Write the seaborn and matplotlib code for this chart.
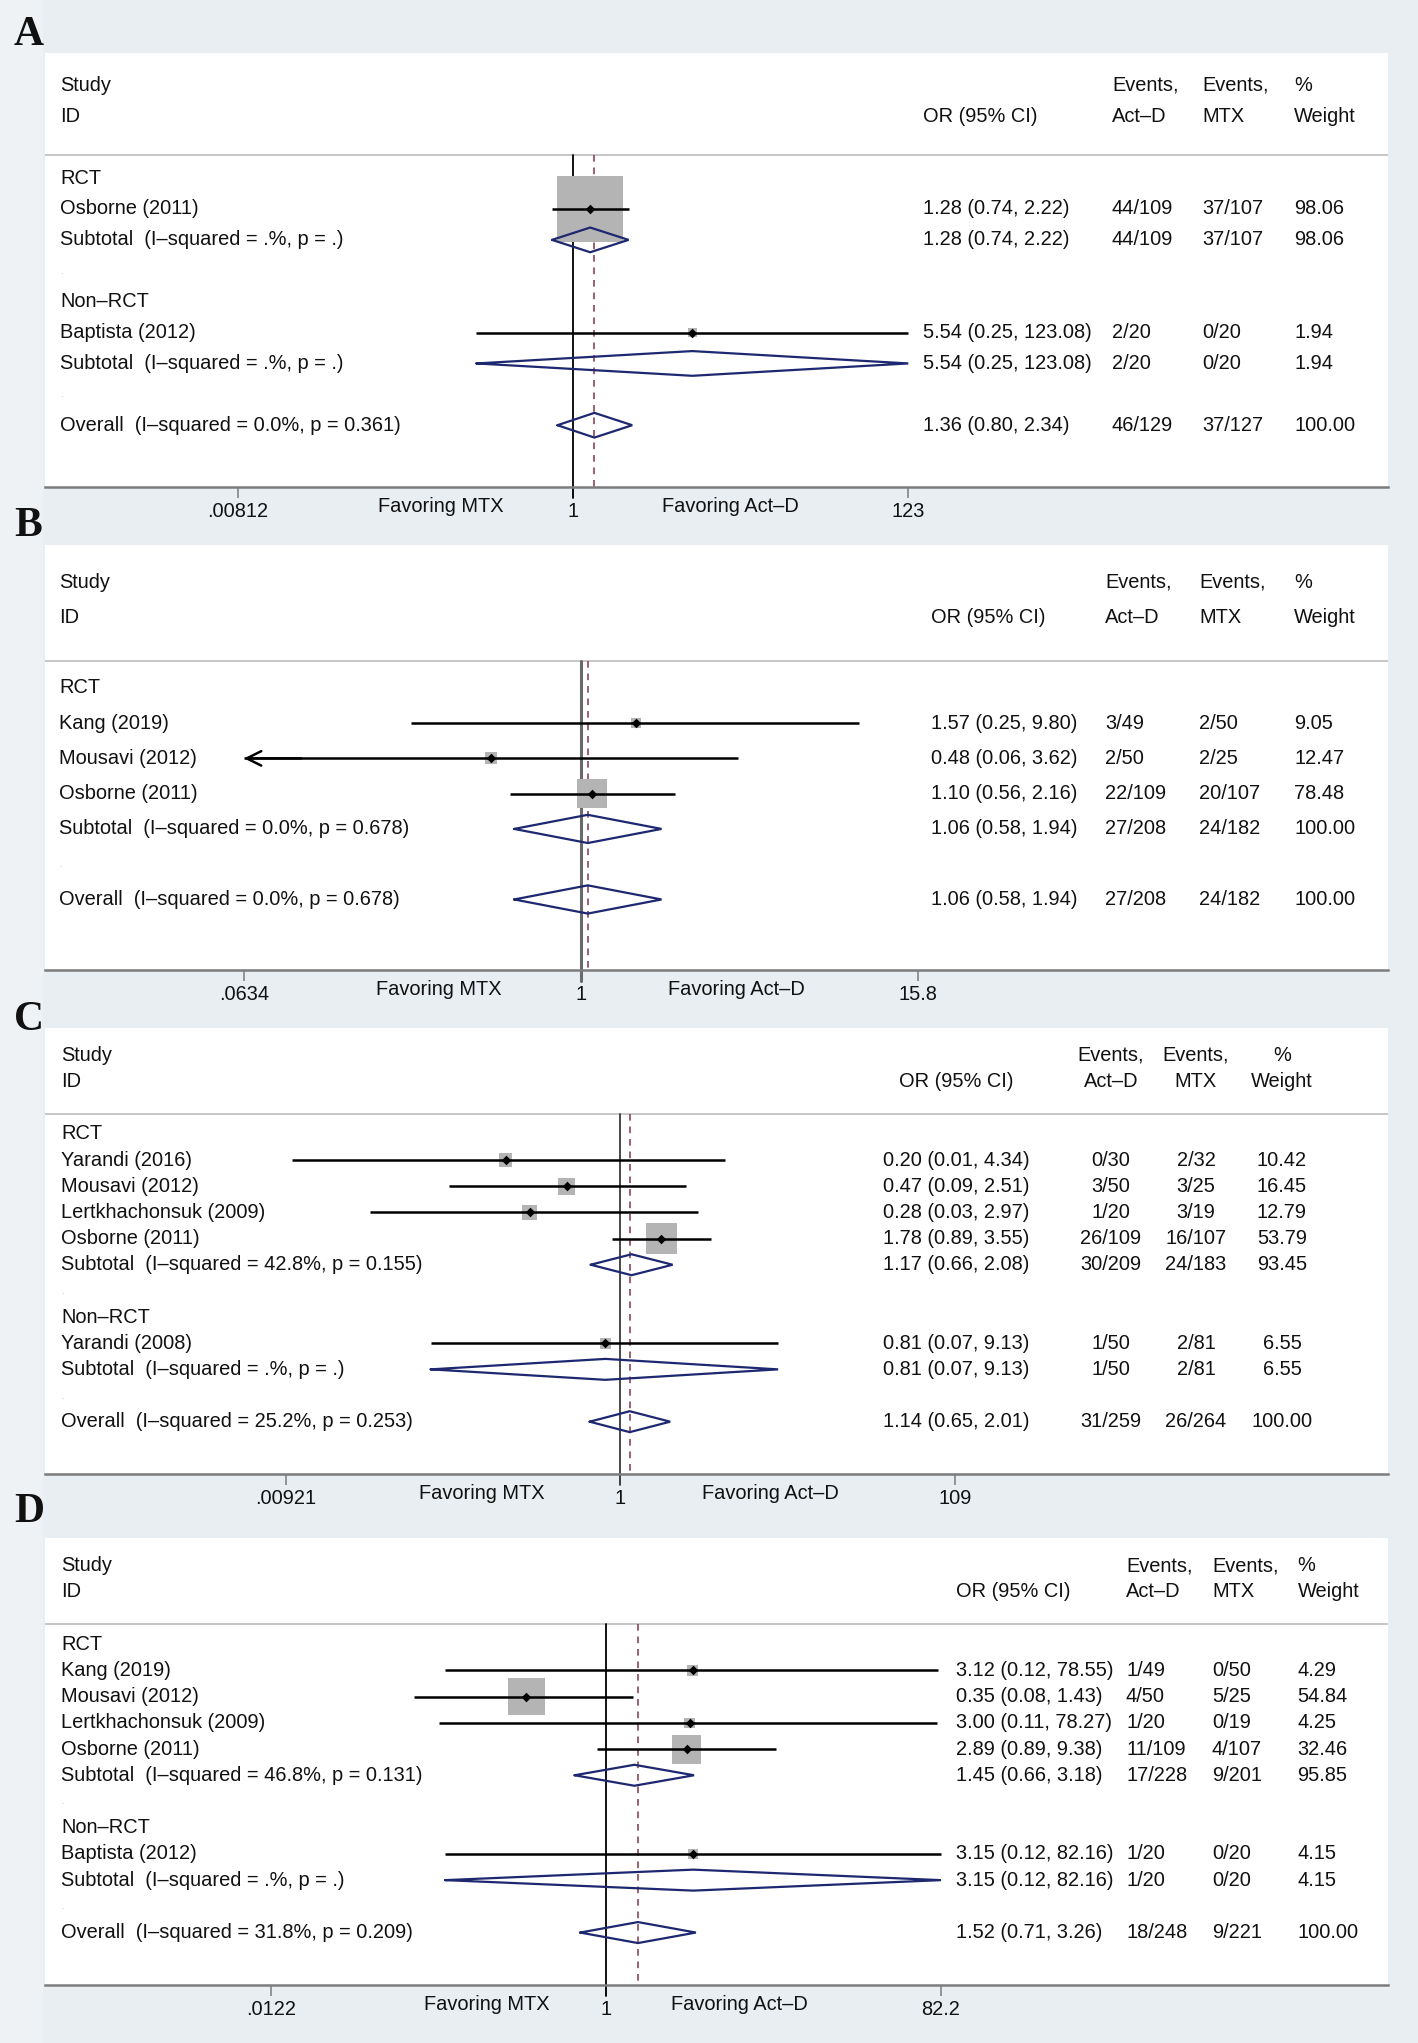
import numpy as np
import pandas as pd
import matplotlib
matplotlib.use("Agg")
import matplotlib.pyplot as plt
import matplotlib.transforms as mtrans
from matplotlib.ticker import NullLocator
import seaborn as sns

# ---------------- data ----------------
# panel A
a_label = ["RCT", "Osborne (2011)", "Subtotal  (I–squared = .%, p = .)", ".",
           "Non–RCT", "Baptista (2012)", "Subtotal  (I–squared = .%, p = .)", ".",
           "Overall  (I–squared = 0.0%, p = 0.361)"]
a_kind = ["head", "study", "sub", "blank", "head", "study", "sub", "blank", "sub"]
a_or = [None, 1.28, 1.28, None, None, 5.54, 5.54, None, 1.36]
a_lo = [None, 0.74, 0.74, None, None, 0.25, 0.25, None, 0.80]
a_hi = [None, 2.22, 2.22, None, None, 123.08, 123.08, None, 2.34]
a_ev_actd = ["", "44/109", "44/109", "", "", "2/20", "2/20", "", "46/129"]
a_ev_mtx = ["", "37/107", "37/107", "", "", "0/20", "0/20", "", "37/127"]
a_weight = [None, 98.06, 98.06, None, None, 1.94, 1.94, None, 100.00]
a_ticks = [0.00812, 1, 123]
a_ticklabels = [".00812", "1", "123"]

# panel B
b_label = ["RCT", "Kang (2019)", "Mousavi (2012)", "Osborne (2011)",
           "Subtotal  (I–squared = 0.0%, p = 0.678)", ".",
           "Overall  (I–squared = 0.0%, p = 0.678)"]
b_kind = ["head", "study", "study", "study", "sub", "blank", "sub"]
b_or = [None, 1.57, 0.48, 1.10, 1.06, None, 1.06]
b_lo = [None, 0.25, 0.06, 0.56, 0.58, None, 0.58]
b_hi = [None, 9.80, 3.62, 2.16, 1.94, None, 1.94]
b_ev_actd = ["", "3/49", "2/50", "22/109", "27/208", "", "27/208"]
b_ev_mtx = ["", "2/50", "2/25", "20/107", "24/182", "", "24/182"]
b_weight = [None, 9.05, 12.47, 78.48, 100.00, None, 100.00]
b_ticks = [0.0634, 1, 15.8]
b_ticklabels = [".0634", "1", "15.8"]

# panel C
c_label = ["RCT", "Yarandi (2016)", "Mousavi (2012)", "Lertkhachonsuk (2009)",
           "Osborne (2011)", "Subtotal  (I–squared = 42.8%, p = 0.155)", ".",
           "Non–RCT", "Yarandi (2008)", "Subtotal  (I–squared = .%, p = .)", ".",
           "Overall  (I–squared = 25.2%, p = 0.253)"]
c_kind = ["head", "study", "study", "study", "study", "sub", "blank",
          "head", "study", "sub", "blank", "sub"]
c_or = [None, 0.20, 0.47, 0.28, 1.78, 1.17, None, None, 0.81, 0.81, None, 1.14]
c_lo = [None, 0.01, 0.09, 0.03, 0.89, 0.66, None, None, 0.07, 0.07, None, 0.65]
c_hi = [None, 4.34, 2.51, 2.97, 3.55, 2.08, None, None, 9.13, 9.13, None, 2.01]
c_ev_actd = ["", "0/30", "3/50", "1/20", "26/109", "30/209", "", "", "1/50", "1/50", "", "31/259"]
c_ev_mtx = ["", "2/32", "3/25", "3/19", "16/107", "24/183", "", "", "2/81", "2/81", "", "26/264"]
c_weight = [None, 10.42, 16.45, 12.79, 53.79, 93.45, None, None, 6.55, 6.55, None, 100.00]
c_ticks = [0.00921, 1, 109]
c_ticklabels = [".00921", "1", "109"]

# panel D
d_label = ["RCT", "Kang (2019)", "Mousavi (2012)", "Lertkhachonsuk (2009)",
           "Osborne (2011)", "Subtotal  (I–squared = 46.8%, p = 0.131)", ".",
           "Non–RCT", "Baptista (2012)", "Subtotal  (I–squared = .%, p = .)", ".",
           "Overall  (I–squared = 31.8%, p = 0.209)"]
d_kind = ["head", "study", "study", "study", "study", "sub", "blank",
          "head", "study", "sub", "blank", "sub"]
d_or = [None, 3.12, 0.35, 3.00, 2.89, 1.45, None, None, 3.15, 3.15, None, 1.52]
d_lo = [None, 0.12, 0.08, 0.11, 0.89, 0.66, None, None, 0.12, 0.12, None, 0.71]
d_hi = [None, 78.55, 1.43, 78.27, 9.38, 3.18, None, None, 82.16, 82.16, None, 3.26]
d_ev_actd = ["", "1/49", "4/50", "1/20", "11/109", "17/228", "", "", "1/20", "1/20", "", "18/248"]
d_ev_mtx = ["", "0/50", "5/25", "0/19", "4/107", "9/201", "", "", "0/20", "0/20", "", "9/221"]
d_weight = [None, 4.29, 54.84, 4.25, 32.46, 95.85, None, None, 4.15, 4.15, None, 100.00]
d_ticks = [0.0122, 1, 82.2]
d_ticklabels = [".0122", "1", "82.2"]

head_top = ["Study", "", "Events,", "Events,", "%"]
head_bot = ["ID", "OR (95% CI)", "Act–D", "MTX", "Weight"]
fav_left, fav_right = "Favoring MTX", "Favoring Act–D"

# ---------------- layout (pixels of the 1418 x 2043 canvas) ----------------
W, H = 1418, 2043
BOX_L, BOX_R = 45, 1388
BG = "#E8EEF2"
NAVY = "#1E2870"
DASH = "#8E4454"
AXC = "#7C7C7C"
FS = 14.4

layout = {
    "A": dict(top=53, axis=487, tick_px=(237.6, 908.3), k=6.67,
              cols=(60, 923, 1112, 1202, 1294), ha="left", fav=(441, 730),
              letter=(29, 35), ref="black", ref_lw=1.3),
    "B": dict(top=545, axis=970, tick_px=(244, 917.5), k=3.35,
              cols=(59, 931, 1105, 1199, 1294), ha="left", fav=(439, 736),
              letter=(28, 526), ref="#6A6A6A", ref_lw=2.2),
    "C": dict(top=1028, axis=1474, tick_px=(286, 955), k=4.2,
              cols=(61, 956, 1111, 1196, 1282), ha="center", fav=(482, 770),
              letter=(29, 1020), ref="#3A3A3A", ref_lw=1.3),
    "D": dict(top=1538, axis=1985, tick_px=(271.5, 941), k=5.1,
              cols=(61, 955.5, 1126, 1212, 1297.5), ha="left", fav=(487, 739),
              letter=(29, 1512), ref="black", ref_lw=1.3),
}

panels = {
    "A": (a_label, a_kind, a_or, a_lo, a_hi, a_ev_actd, a_ev_mtx, a_weight, a_ticks, a_ticklabels),
    "B": (b_label, b_kind, b_or, b_lo, b_hi, b_ev_actd, b_ev_mtx, b_weight, b_ticks, b_ticklabels),
    "C": (c_label, c_kind, c_or, c_lo, c_hi, c_ev_actd, c_ev_mtx, c_weight, c_ticks, c_ticklabels),
    "D": (d_label, d_kind, d_or, d_lo, d_hi, d_ev_actd, d_ev_mtx, d_weight, d_ticks, d_ticklabels),
}

sns.set_style("white")
plt.rcParams["font.family"] = ["Liberation Sans", "DejaVu Sans"]
plt.rcParams["text.color"] = "#111111"

fig = plt.figure(figsize=(W / 100, H / 100), dpi=100, facecolor=BG)
fig.patches.append(plt.Rectangle((0, 0), 43 / W, 1, transform=fig.transFigure,
                                 facecolor="#EEF2F5", edgecolor="none", zorder=0))


def fx(px):
    return (px - BOX_L) / (BOX_R - BOX_L)


for key, (label, kind, orv, lo, hi, ev1, ev2, wt, ticks, ticklabels) in panels.items():
    lay = layout[key]
    n = len(label)
    hpx = lay["axis"] - lay["top"]
    ax = fig.add_axes([BOX_L / W, 1 - lay["axis"] / H, (BOX_R - BOX_L) / W, hpx / H])
    ax.set_facecolor("white")

    df = pd.DataFrame(dict(label=label, kind=kind, OR=orv, lo=lo, hi=hi,
                           ev1=ev1, ev2=ev2, wt=wt))
    df["row"] = np.arange(n)
    t_lo, t_hi = ticks[0], ticks[-1]

    # log scale mapped so that the outer ticks land where Stata put them
    ax.set_xscale("log")
    b = (np.log(t_hi) - np.log(t_lo)) / (lay["tick_px"][1] - lay["tick_px"][0])
    ax.set_xlim(np.exp(np.log(t_lo) + b * (BOX_L - lay["tick_px"][0])),
                np.exp(np.log(t_lo) + b * (BOX_R - lay["tick_px"][0])))
    ax.set_ylim(n + 1, -4.05)
    sep = -0.76

    ax.axhline(sep, color="#C6C6C6", lw=1.4, zorder=0.5)
    sep_frac = (n + 1 - sep) / (n + 1 + 4.05)
    ax.axvline(1, ymin=-11 / hpx, ymax=sep_frac, color=lay["ref"], lw=lay["ref_lw"],
               zorder=1, clip_on=False)
    overall = df.iloc[-1]
    ax.plot([overall.OR, overall.OR], [sep, n + 1], color=DASH, lw=1.2,
            dashes=(4, 3.5), zorder=1.5)

    st = df[df.kind == "study"]
    side_pt = lay["k"] / 1.389
    sns.scatterplot(data=st, x="OR", y="row", size="wt", sizes=(0, side_pt ** 2 * 100),
                    size_norm=(0, 100), marker="s", color="#B4B4B4", linewidth=0,
                    legend=False, ax=ax, zorder=2)
    # confidence intervals, clipped to the axis range with arrows when cut
    for _, r in st.iterrows():
        l, h = max(r.lo, t_lo), min(r.hi, t_hi)
        ax.plot([l, h], [r.row, r.row], color="black", lw=1.8, zorder=3,
                solid_capstyle="butt")
        if r.lo < t_lo * 0.99:
            ax.annotate("", xy=(t_lo, r.row), xytext=(t_lo * 1.6, r.row),
                        arrowprops=dict(arrowstyle="->", color="black", lw=1.8,
                                        mutation_scale=26, shrinkA=0, shrinkB=0),
                        zorder=3)
        if r.hi > t_hi * 1.01:
            ax.annotate("", xy=(t_hi, r.row), xytext=(t_hi / 1.6, r.row),
                        arrowprops=dict(arrowstyle="->", color="black", lw=1.8,
                                        mutation_scale=26, shrinkA=0, shrinkB=0),
                        zorder=3)
    sns.scatterplot(data=st, x="OR", y="row", marker="D", s=24, color="black",
                    linewidth=0, legend=False, ax=ax, zorder=4)

    for _, r in df[df.kind == "sub"].iterrows():
        l, h = max(r.lo, t_lo), min(r.hi, t_hi)
        ax.plot([l, r.OR, h, r.OR, l], [r.row, r.row - 0.4, r.row, r.row + 0.4, r.row],
                color=NAVY, lw=1.6, zorder=3, solid_joinstyle="miter")

    # text columns
    tr = mtrans.blended_transform_factory(ax.transAxes, ax.transData)
    cx = [fx(c) for c in lay["cols"]]
    ha = lay["ha"]
    for j in range(5):
        hj = "left" if j == 0 else ha
        if head_top[j]:
            ax.text(cx[j], -3, head_top[j], transform=tr, ha=hj, va="center", fontsize=FS)
        ax.text(cx[j], -2, head_bot[j], transform=tr, ha=hj, va="center", fontsize=FS)
    for _, r in df.iterrows():
        if r.kind == "blank":
            ax.text(cx[0], r.row, ".", transform=tr, ha="left", va="center",
                    fontsize=7, color="#BDBDBD")
            continue
        ax.text(cx[0], r.row, r.label, transform=tr, ha="left", va="center", fontsize=FS)
        if r.kind == "head":
            continue
        ax.text(cx[1], r.row, f"{r.OR:.2f} ({r.lo:.2f}, {r.hi:.2f})", transform=tr,
                ha=ha, va="center", fontsize=FS)
        ax.text(cx[2], r.row, r.ev1, transform=tr, ha=ha, va="center", fontsize=FS)
        ax.text(cx[3], r.row, r.ev2, transform=tr, ha=ha, va="center", fontsize=FS)
        ax.text(cx[4], r.row, f"{r.wt:.2f}", transform=tr, ha=ha, va="center", fontsize=FS)

    # axis
    ax.set_xticks(ticks)
    ax.set_xticklabels(ticklabels)
    ax.xaxis.set_minor_locator(NullLocator())
    ax.set_yticks([])
    ax.set_xlabel("")
    ax.set_ylabel("")
    for s in ["top", "left", "right"]:
        ax.spines[s].set_visible(False)
    ax.spines["bottom"].set_color(AXC)
    ax.spines["bottom"].set_linewidth(1.8)
    ax.tick_params(axis="x", bottom=True, direction="out", length=8, width=1.1,
                   color=AXC, labelsize=FS, pad=3, labelcolor="#111111")
    for fxp, txt in zip(lay["fav"], [fav_left, fav_right]):
        ax.annotate(txt, xy=(fx(fxp), 0), xycoords="axes fraction",
                    xytext=(0, -14), textcoords="offset points",
                    ha="center", va="center", fontsize=FS)

    fig.text(lay["letter"][0] / W, 1 - lay["letter"][1] / H, key,
             family=["Liberation Serif", "DejaVu Serif"], fontweight="bold",
             fontsize=30, ha="center", va="center", color="#111111")

fig.savefig("out.png", dpi=100, facecolor=BG)
